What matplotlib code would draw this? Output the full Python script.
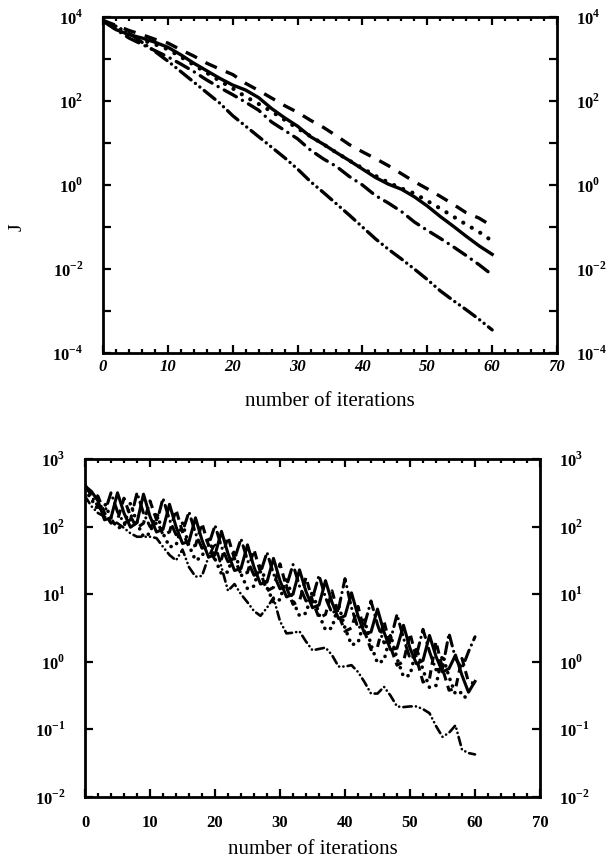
import matplotlib
matplotlib.use('Agg')
import matplotlib.pyplot as plt
import numpy as np
from matplotlib.ticker import FixedLocator, MultipleLocator, NullLocator

plt.rcParams['font.family'] = 'Liberation Serif'
plt.rcParams['mathtext.fontset'] = 'custom'
plt.rcParams['mathtext.rm'] = 'Liberation Serif:bold'
plt.rcParams['mathtext.bf'] = 'Liberation Serif:bold'
plt.rcParams['lines.scale_dashes'] = False

# ---- top panel: J vs iterations (log10 values) ----
it_top = list(range(0, 61, 2))
top_dashed = [3.92, 3.8, 3.68, 3.58, 3.47, 3.38, 3.22, 3.07, 2.9, 2.76, 2.63,
              2.42, 2.25, 2.07, 1.89, 1.73, 1.54, 1.37, 1.17, 0.96, 0.79,
              0.63, 0.46, 0.27, 0.08, -0.09, -0.27, -0.46, -0.66, -0.79, -0.98]
top_dotted = [3.92, 3.72, 3.6, 3.45, 3.35, 3.23, 3.05, 2.86, 2.67, 2.48, 2.3,
              2.1, 1.93, 1.75, 1.55, 1.35, 1.16, 0.97, 0.77, 0.58, 0.4,
              0.22, 0.06, -0.08, -0.2, -0.38, -0.56, -0.75, -0.94, -1.12, -1.28]
top_solid = [3.93, 3.7, 3.58, 3.5, 3.4, 3.28, 3.1, 2.9, 2.72, 2.54, 2.38,
             2.26, 2.08, 1.82, 1.6, 1.4, 1.15, 0.97, 0.77, 0.58, 0.38,
             0.18, 0.02, -0.1, -0.28, -0.5, -0.75, -0.98, -1.22, -1.45, -1.65]
top_dashdot = [3.9, 3.7, 3.5, 3.35, 3.2, 3.05, 2.88, 2.7, 2.5, 2.32, 2.15,
               1.97, 1.78, 1.5, 1.3, 1.1, 0.83, 0.62, 0.44, 0.2, 0.0,
               -0.25, -0.43, -0.63, -0.88, -1.08, -1.27, -1.47, -1.68, -1.9, -2.14]
top_dashdotdot = [3.9, 3.78, 3.62, 3.4, 3.18, 2.95, 2.7, 2.45, 2.2, 1.95, 1.65,
                  1.4, 1.15, 0.9, 0.65, 0.38, 0.08, -0.18, -0.45, -0.72, -1.0,
                  -1.28, -1.53, -1.76, -2.0, -2.25, -2.52, -2.75, -2.97, -3.2, -3.45]
top_yticks = [1e4, 1e2, 1e0, 1e-2, 1e-4]
top_ylabels = [r'$10^{4}$', r'$10^{2}$', r'$10^{0}$', r'$10^{-2}$', r'$10^{-4}$']

# ---- bottom panel (log10 values) ----
it_bot = list(range(0, 61))
bot_solid = [2.6, 2.52, 2.38, 2.1, 2.13, 2.5, 2.2, 1.99, 2.06, 2.48, 2.15,
             1.92, 1.96, 2.33, 2.0, 1.75, 1.78, 2.13, 1.8, 1.55, 1.58,
             1.93, 1.6, 1.35, 1.38, 1.73, 1.4, 1.15, 1.18, 1.53, 1.2,
             0.96, 1.0, 1.36, 1.04, 0.8, 0.84, 1.2, 0.88, 0.64, 0.68,
             1.02, 0.68, 0.42, 0.44, 0.78, 0.44, 0.18, 0.2, 0.54, 0.2,
             -0.03, 0.02, 0.39, 0.08, -0.15, -0.1, 0.1, -0.2, -0.45, -0.29]
bot_dashed = [2.58, 2.5, 2.45, 2.2, 2.05, 2.1, 2.42, 2.15, 1.98, 2.05, 2.38,
              2.1, 1.88, 1.92, 2.25, 1.92, 1.7, 1.72, 2.05, 1.72, 1.5,
              1.52, 1.85, 1.52, 1.3, 1.32, 1.66, 1.32, 1.05, 1.1, 1.45,
              1.1, 0.85, 0.9, 1.25, 0.9, 0.65, 0.7, 1.05, 0.7, 0.45,
              0.5, 0.82, 0.45, 0.18, 0.22, 0.6, 0.22, -0.05, 0.0, 0.42,
              0.05, -0.3, -0.25, 0.3, -0.1, -0.42, -0.4, 0.05, -0.3, -0.32]
bot_dashdot = [2.62, 2.45, 2.3, 2.2, 2.5, 2.22, 2.05, 2.1, 2.5, 2.2, 2.0,
               2.05, 2.42, 2.1, 1.88, 1.92, 2.22, 1.9, 1.68, 1.72, 2.02,
               1.7, 1.48, 1.52, 1.82, 1.5, 1.28, 1.32, 1.62, 1.3, 1.08,
               1.12, 1.44, 1.12, 0.9, 0.94, 1.28, 0.95, 0.72, 0.78, 1.23,
               0.8, 0.5, 0.55, 0.9, 0.55, 0.28, 0.32, 0.7, 0.35, 0.05,
               0.1, 0.48, 0.15, -0.12, -0.1, 0.42, 0.05, -0.1, 0.15, 0.37]
bot_dotted = [2.55, 2.4, 2.25, 2.35, 2.12, 1.98, 2.0, 2.35, 2.05, 1.85, 1.9,
              2.22, 1.9, 1.7, 1.72, 2.05, 1.72, 1.5, 1.55, 1.85, 1.52,
              1.3, 1.33, 1.65, 1.3, 1.08, 1.12, 1.45, 1.1, 0.88, 0.92,
              1.25, 0.9, 0.68, 0.72, 1.05, 0.7, 0.47, 0.5, 0.85, 0.5,
              0.25, 0.28, 0.62, 0.25, -0.02, 0.02, 0.4, 0.05, -0.22, -0.2,
              0.2, -0.12, -0.38, -0.35, 0.1, -0.22, -0.48, -0.45, -0.6]
bot_dashdotdot = [2.45, 2.3, 2.2, 2.15, 2.1, 2.05, 1.98, 1.9, 1.85, 1.85, 1.85,
                  1.83, 1.7, 1.58, 1.5, 1.66, 1.4, 1.26, 1.27, 1.55, 1.75,
                  1.4, 1.05, 1.15, 1.0, 0.88, 0.75, 0.68, 0.8, 0.95, 0.6,
                  0.42, 0.43, 0.45, 0.3, 0.17, 0.19, 0.21, 0.1, -0.07, -0.07,
                  -0.05, -0.15, -0.3, -0.47, -0.47, -0.37, -0.5, -0.66, -0.67, -0.66,
                  -0.66, -0.7, -0.76, -0.95, -1.11, -1.05, -0.94, -1.3, -1.35, -1.37]
bot_yticks = [1e3, 1e2, 1e1, 1e0, 1e-1, 1e-2]
bot_ylabels = [r'$10^{3}$', r'$10^{2}$', r'$10^{1}$', r'$10^{0}$', r'$10^{-1}$', r'$10^{-2}$']

xticks = [0, 10, 20, 30, 40, 50, 60, 70]

dash = (0, (9, 7))
dot = (0, (0.1, 7))
dashdot = (0, (10, 5, 0.1, 5))
dashdotdot = (0, (10, 4, 0.1, 4, 0.1, 4))

fig = plt.figure(figsize=(6.12, 8.59), dpi=100)


def style_axes(ax, yticks, ylabels, xpad, ypad, italic_x):
    ax.set_yscale('log')
    ax.set_xlim(0, 70)
    ax.set_ylim(min(yticks), max(yticks))
    for s in ax.spines.values():
        s.set_linewidth(2.0)
    ax.xaxis.set_major_locator(FixedLocator(xticks))
    ax.xaxis.set_minor_locator(MultipleLocator(2))
    ax.set_xticklabels([str(t) for t in xticks], fontweight='bold',
                       fontstyle='italic' if italic_x else 'normal', fontsize=12)
    dec = np.arange(np.log10(min(yticks)), np.log10(max(yticks)) + 1)
    ax.yaxis.set_major_locator(FixedLocator(10.0 ** dec))
    ax.yaxis.set_minor_locator(NullLocator())
    ax.set_yticklabels([ylabels[yticks.index(10.0 ** d)] if 10.0 ** d in yticks else ''
                        for d in dec], fontsize=12)
    ax.tick_params(axis='both', which='both', direction='in', top=True, right=True,
                   labelright=True, width=1.6)
    ax.tick_params(axis='y', which='major', length=6, pad=ypad)
    ax.tick_params(axis='x', which='major', length=6, pad=xpad)
    ax.tick_params(axis='x', which='minor', length=3)


# top panel
ax1 = fig.add_axes([103 / 612, 1 - 353 / 859, 454 / 612, 336 / 859])
lw = 2.4
ax1.plot(it_top, 10.0 ** np.array(top_dashed), color='black', lw=lw, linestyle=dash)
ax1.plot(it_top[:-1] + [59.5], 10.0 ** np.array(top_dotted), color='black', lw=lw + 0.6,
         linestyle=dot, dash_capstyle='round')
ax1.plot(it_top, 10.0 ** np.array(top_solid), color='black', lw=lw)
ax1.plot(it_top, 10.0 ** np.array(top_dashdot), color='black', lw=lw, linestyle=dashdot,
         dash_capstyle='round')
ax1.plot(it_top, 10.0 ** np.array(top_dashdotdot), color='black', lw=lw,
         linestyle=dashdotdot, dash_capstyle='round')
style_axes(ax1, top_yticks, top_ylabels, xpad=4, ypad=14, italic_x=True)
ax1.set_xlabel('number of iterations', fontsize=15)
ax1.xaxis.set_label_coords(0.5, -0.115)
ax1.set_ylabel('J', fontsize=14)
ax1.yaxis.set_label_coords(-0.17, 0.375)

# bottom panel
ax2 = fig.add_axes([85 / 612, 1 - 797 / 859, 455 / 612, 338 / 859])
lw2 = 2.2
ax2.plot(it_bot, 10.0 ** np.array(bot_solid), color='black', lw=lw2)
ax2.plot(it_bot, 10.0 ** np.array(bot_dashed), color='black', lw=lw2, linestyle=(0, (6, 4)))
ax2.plot(it_bot, 10.0 ** np.array(bot_dashdot), color='black', lw=lw2,
         linestyle=(0, (8, 4, 0.1, 4)), dash_capstyle='round')
ax2.plot(it_bot[:-1], 10.0 ** np.array(bot_dotted), color='black', lw=lw2 + 0.4,
         linestyle=(0, (0.1, 5)), dash_capstyle='round')
ax2.plot(it_bot, 10.0 ** np.array(bot_dashdotdot), color='black', lw=1.9,
         linestyle=(0, (6, 3, 0.1, 3, 0.1, 3)), dash_capstyle='round')
style_axes(ax2, bot_yticks, bot_ylabels, xpad=13, ypad=14, italic_x=False)
ax2.set_xlabel('number of iterations', fontsize=15)
ax2.xaxis.set_label_coords(0.5, -0.127)

fig.savefig('out.png', dpi=100)
